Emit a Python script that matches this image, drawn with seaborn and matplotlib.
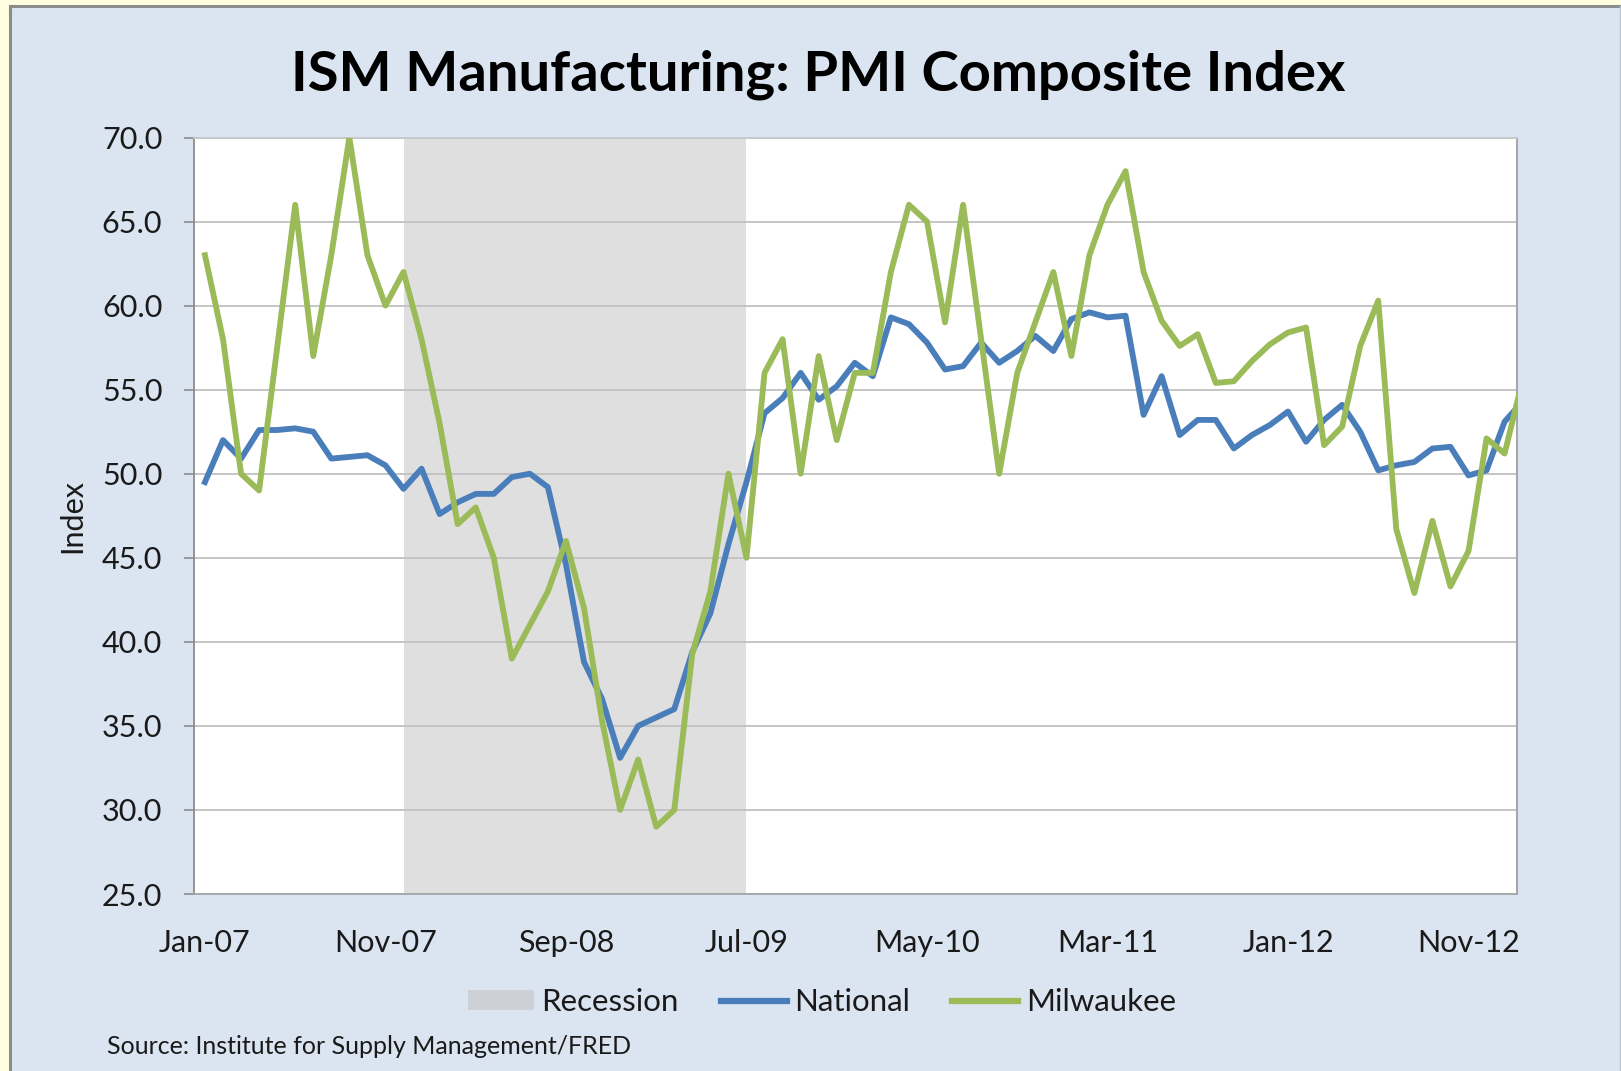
import numpy as np
import pandas as pd
import matplotlib
matplotlib.use("Agg")
import matplotlib.pyplot as plt
import seaborn as sns
from matplotlib.patches import Rectangle, Patch
from matplotlib.lines import Line2D

# ---------------- data ----------------
months = pd.date_range("2007-01-01", "2013-02-01", freq="MS").strftime("%b-%y").tolist()

national = [49.5, 52.0, 50.9, 52.6, 52.6, 52.7, 52.5, 50.9, 51.0, 51.1, 50.5, 49.1,
            50.3, 47.6, 48.3, 48.8, 48.8, 49.8, 50.0, 49.2, 44.6, 38.8, 36.6, 33.1,
            35.0, 35.5, 36.0, 39.4, 41.7, 45.8, 49.5, 53.6, 54.5, 56.0, 54.4, 55.2,
            56.6, 55.8, 59.3, 58.9, 57.8, 56.2, 56.4, 57.8, 56.6, 57.3, 58.2, 57.3,
            59.2, 59.6, 59.3, 59.4, 53.5, 55.8, 52.3, 53.2, 53.2, 51.5, 52.3, 52.9,
            53.7, 51.9, 53.2, 54.1, 52.5, 50.2, 50.5, 50.7, 51.5, 51.6, 49.9, 50.2,
            53.1, 54.3]

milwaukee = [63.0, 58.0, 50.0, 49.0, 57.5, 66.0, 57.0, 63.0, 70.0, 63.0, 60.0, 62.0,
             58.0, 53.0, 47.0, 48.0, 45.0, 39.0, 41.0, 43.0, 46.0, 42.0, 35.3, 30.0,
             33.0, 29.0, 30.0, 39.3, 43.0, 50.0, 45.0, 56.0, 58.0, 50.0, 57.0, 52.0,
             56.0, 56.0, 62.0, 66.0, 65.0, 59.0, 66.0, 58.0, 50.0, 56.0, 59.0, 62.0,
             57.0, 63.0, 66.0, 68.0, 62.0, 59.1, 57.6, 58.3, 55.4, 55.5, 56.7, 57.7,
             58.4, 58.7, 51.7, 52.8, 57.6, 60.3, 46.7, 42.9, 47.2, 43.3, 45.4, 52.1,
             51.2, 55.6]

recession_start = "Dec-07"
recession_end = "Jul-09"

tick_labels = ["Jan-07", "Nov-07", "Sep-08", "Jul-09", "May-10", "Mar-11", "Jan-12", "Nov-12"]
y_ticks = [25, 30, 35, 40, 45, 50, 55, 60, 65, 70]

df = pd.DataFrame({
    "idx": np.arange(len(months)),
    "month": months,
    "National": national,
    "Milwaukee": milwaukee,
})
long = df.melt(id_vars=["idx", "month"], value_vars=["National", "Milwaukee"],
               var_name="series", value_name="value")

# ---------------- style ----------------
W, H = 1621, 1071
FONT = ["Lato", "DejaVu Sans"]
plt.rcParams["font.family"] = FONT

fig = plt.figure(figsize=(W / 100, H / 100), dpi=100)
fig.patch.set_facecolor("#FFFFDF")

# chart box
fig.patches.append(Rectangle((9 / W, 0), (W - 9) / W, (H - 5) / H, transform=fig.transFigure,
                             facecolor="#DBE5F1", edgecolor="none", zorder=-5))
fig.add_artist(Line2D([9.5 / W, 9.5 / W], [0, 1 - 5.5 / H], transform=fig.transFigure,
                      color="#8C8C8C", lw=2.2, zorder=-4))
fig.add_artist(Line2D([9.5 / W, 1], [1 - 5.5 / H, 1 - 5.5 / H], transform=fig.transFigure,
                      color="#8C8C8C", lw=2.2, zorder=-4))
fig.add_artist(Line2D([1 - 1.0 / W, 1 - 1.0 / W], [0, 1 - 5.5 / H], transform=fig.transFigure,
                      color="#B8C2CE", lw=1.0, zorder=-4))

left, right, top, bottom = 194.3, 1516.7, 137.5, 894.0
ax = fig.add_axes([left / W, 1 - bottom / H, (right - left) / W, (bottom - top) / H])
ax.set_facecolor("white")
ax.set_zorder(1)

palette = {"National": "#4A7EBB", "Milwaukee": "#9BBB59"}

rs = months.index(recession_start)
re_ = months.index(recession_end)
ax.axvspan(rs, re_, color="#DFDFDF", lw=0, zorder=0.5)

sns.lineplot(data=long, x="idx", y="value", hue="series", palette=palette,
             ax=ax, legend=False, zorder=3)
for ln in ax.lines:
    ln.set_linewidth(4.2)
    ln.set_solid_joinstyle("round")

ax.set_xlim(-0.59, 72.67)
ax.set_ylim(25, 70)

ax.set_yticks(y_ticks)
ax.set_yticklabels([f"{v:.1f}" for v in y_ticks])
ax.set_xticks([months.index(t) for t in tick_labels])
ax.set_xticklabels(tick_labels)

ax.grid(axis="y", color="#C0C0C0", lw=1.3)
ax.grid(axis="x", visible=False)
ax.tick_params(axis="y", length=7, width=1.2, color="#8C8C8C", pad=16,
               labelsize=22, labelcolor="#1A1A1A")
ax.tick_params(axis="x", length=0, pad=25, labelsize=22, labelcolor="#1A1A1A")

for s, c in [("left", "#8C8C8C"), ("bottom", "#A6A6A6"), ("right", "#A0A0A0"), ("top", "#C8C8C8")]:
    ax.spines[s].set_color(c)
    ax.spines[s].set_linewidth(1.3)

ax.set_xlabel("")
ax.set_ylabel("Index", fontsize=22, color="#1A1A1A")
ax.yaxis.set_label_coords(-(left - 86) / (right - left), 0.5)

fig.text(818 / W, 1 - 90 / H, "ISM Manufacturing: PMI Composite Index",
         ha="center", va="baseline", fontsize=40.5, fontweight="bold", color="black")

handles = [
    Patch(facecolor="#C1C1C1", alpha=0.53, edgecolor="none", label="Recession"),
    Line2D([], [], color=palette["National"], lw=4.5, label="National"),
    Line2D([], [], color=palette["Milwaukee"], lw=4.5, label="Milwaukee"),
]
leg = fig.legend(handles=handles, loc="center", bbox_to_anchor=(822 / W, 1 - 1002 / H),
                 ncol=3, frameon=False, fontsize=22.5, handlelength=2.1, handleheight=0.6,
                 handletextpad=0.25, columnspacing=1.35)
for t in leg.get_texts():
    t.set_color("#1A1A1A")

fig.text(107 / W, 1 - 1047 / H, "Source: Institute for Supply Management/FRED",
         ha="left", va="center", fontsize=18, color="#1A1A1A")

fig.savefig("out.png", dpi=100, facecolor=fig.get_facecolor())
